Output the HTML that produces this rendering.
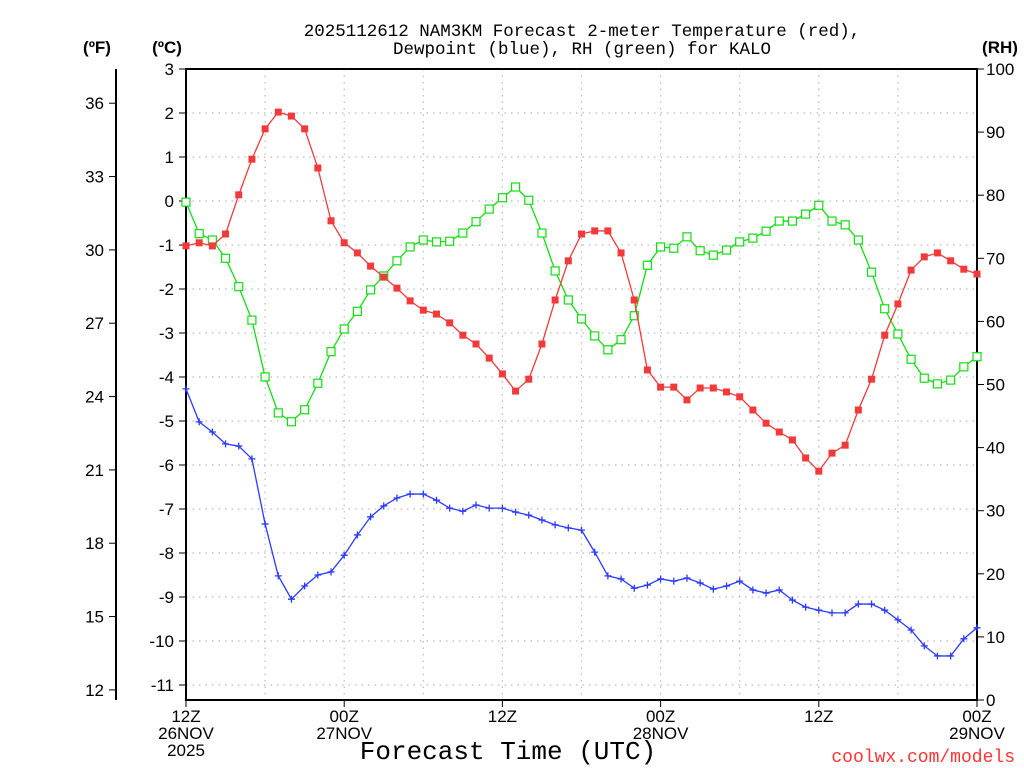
<!DOCTYPE html>
<html><head><meta charset="utf-8"><style>
body{margin:0;background:#fff;}
svg{display:block;font-family:"Liberation Sans","DejaVu Sans",sans-serif;}
.mono{font-family:"Liberation Mono","DejaVu Sans Mono",monospace;}
</style></head><body>
<svg id="c" width="1024" height="768" xmlns="http://www.w3.org/2000/svg"></svg>
<script>
const hours = Array.from({length:61},(_,i)=>i);
const tempC = [-1.02,-0.95,-1.02,-0.75,0.14,0.95,1.64,2.02,1.93,1.64,0.75,-0.45,-0.95,-1.18,-1.48,-1.73,-1.98,-2.27,-2.48,-2.57,-2.77,-3.05,-3.25,-3.57,-3.93,-4.32,-4.05,-3.25,-2.25,-1.36,-0.75,-0.68,-0.68,-1.18,-2.25,-3.84,-4.23,-4.23,-4.52,-4.25,-4.25,-4.34,-4.45,-4.75,-5.05,-5.25,-5.43,-5.84,-6.14,-5.73,-5.55,-4.75,-4.05,-3.05,-2.34,-1.57,-1.27,-1.18,-1.36,-1.55,-1.66];
const dewC = [-4.27,-5.02,-5.25,-5.52,-5.57,-5.86,-7.34,-8.52,-9.05,-8.75,-8.5,-8.43,-8.05,-7.59,-7.18,-6.93,-6.75,-6.66,-6.66,-6.8,-6.98,-7.05,-6.91,-6.98,-6.98,-7.07,-7.14,-7.25,-7.36,-7.43,-7.48,-7.98,-8.52,-8.59,-8.8,-8.73,-8.59,-8.64,-8.57,-8.68,-8.82,-8.75,-8.64,-8.84,-8.91,-8.84,-9.07,-9.23,-9.3,-9.36,-9.36,-9.16,-9.16,-9.3,-9.52,-9.75,-10.11,-10.34,-10.34,-9.95,-9.7];
const rh = [78.9,73.9,72.9,70,65.5,60.2,51.2,45.5,44.1,46,50.2,55.2,58.8,61.6,65,67.2,69.6,71.8,72.9,72.6,72.7,74,75.8,77.8,79.6,81.3,79.2,74,68,63.4,60.4,57.7,55.5,57.1,60.9,68.9,71.8,71.6,73.4,71.2,70.5,71.3,72.6,73.2,74.3,75.9,75.9,77,78.4,75.9,75.3,72.9,67.8,62,58,54,51,50.1,50.7,52.8,54.4];
const cTicks = [3,2,1,0,-1,-2,-3,-4,-5,-6,-7,-8,-9,-10,-11];
const fTicks = [36,33,30,27,24,21,18,15,12];
const rhTicks = [100,90,80,70,60,50,40,30,20,10,0];
const xTickHours = [0,12,24,36,48,60];
const xTickLabels = [["12Z","26NOV","2025"],["00Z","27NOV"],["12Z"],["00Z","28NOV"],["12Z"],["00Z","29NOV"]];

const X0=186,X1=977,Y0=69,Y1=700;
const xs=h=>X0+(X1-X0)*h/60;
const yc=c=>201-44*c;
const yf=f=>yc((f-32)*5/9);
const yr=r=>Y1-(Y1-Y0)*r/100;
const svg=document.getElementById('c');
const NS='http://www.w3.org/2000/svg';
function el(tag,attrs,parent){const e=document.createElementNS(NS,tag);for(const k in attrs)e.setAttribute(k,attrs[k]);(parent||svg).appendChild(e);return e;}
function txt(x,y,s,attrs){const t=el('text',Object.assign({x:x,y:y},attrs||{}));t.textContent=s;return t;}

const g=el('g',{});


cTicks.forEach(c=>{el('line',{x1:X0,x2:X1,y1:yc(c),y2:yc(c),stroke:'#bbb','stroke-dasharray':'1.5,5','stroke-width':1.2},g);});
for(let h=6;h<60;h+=6){el('line',{x1:xs(h),x2:xs(h),y1:Y0,y2:Y1,stroke:'#bbb','stroke-dasharray':'1.5,5','stroke-width':1.2},g);}

const fr=el('rect',{x:X0,y:Y0,width:X1-X0,height:Y1-Y0,fill:'none',stroke:'#000','stroke-width':2});



const ca=el('g',{'font-size':17,'text-anchor':'end'});


cTicks.forEach(c=>{el('line',{x1:X0-7,x2:X0,y1:yc(c),y2:yc(c),stroke:'#000'},ca);const t=el('text',{x:174,y:yc(c)+6},ca);t.textContent=String(c);});
const fa=el('g',{'font-size':17,'text-anchor':'end'});


el('line',{x1:116,x2:116,y1:Y0,y2:Y1,stroke:'#000','stroke-width':2},fa);
fTicks.forEach(f=>{el('line',{x1:109,x2:116,y1:yf(f),y2:yf(f),stroke:'#000'},fa);const t=el('text',{x:104,y:yf(f)+6},fa);t.textContent=String(f);});
const ra=el('g',{'font-size':17,'text-anchor':'start'});


rhTicks.forEach(r=>{el('line',{x1:X1,x2:X1+7,y1:yr(r),y2:yr(r),stroke:'#000'},ra);const t=el('text',{x:986,y:yr(r)+6},ra);t.textContent=String(r);});
const xa=el('g',{'font-size':17,'text-anchor':'middle'});


xTickHours.forEach((h,i)=>{el('line',{x1:xs(h),x2:xs(h),y1:Y1,y2:Y1+7,stroke:'#000'},xa);xTickLabels[i].forEach((s,j)=>{const t=el('text',{x:xs(h),y:722+j*17},xa);t.textContent=s;});});

const u1=txt(97,53,'(ºF)',{'font-size':17,'font-weight':'bold','text-anchor':'middle'});

const u2=txt(167,53,'(ºC)',{'font-size':17,'font-weight':'bold','text-anchor':'middle'});

const u3=txt(1000,53,'(RH)',{'font-size':17,'font-weight':'bold','text-anchor':'middle'});

const t1=txt(582,36,'2025112612 NAM3KM Forecast 2-meter Temperature (red),',{'font-size':17.5,'text-anchor':'middle',class:'mono'});

const t2=txt(582,54,'Dewpoint (blue), RH (green) for KALO',{'font-size':17.5,'text-anchor':'middle',class:'mono'});

const xt=txt(508,759,'Forecast Time (UTC)',{'font-size':26,'text-anchor':'middle',class:'mono'});

const cr=txt(1015,762,'coolwx.com/models',{'font-size':18,'text-anchor':'end',fill:'#f33',class:'mono'});


function series(vals,yfn,color,name,marker){
  const gg=el('g',{});
  
  
  el('polyline',{points:vals.map((v,i)=>xs(hours[i])+','+yfn(v)).join(' '),fill:'none',stroke:color,'stroke-width':1.3},gg);
  vals.forEach((v,i)=>{
    const x=xs(hours[i]),y=yfn(v);let m;
    if(marker==='fill')m=el('rect',{x:x-3.5,y:y-3.5,width:7,height:7,fill:color},gg);
    else if(marker==='open')m=el('rect',{x:x-4,y:y-4,width:8,height:8,fill:'#fff',stroke:color,'stroke-width':1.2},gg);
    else m=el('path',{d:`M${x-3.5},${y}H${x+3.5}M${x},${y-3.5}V${y+3.5}`,stroke:color,'stroke-width':1.3},gg);
    
    
  });
}
series(rh,yr,'#1d1','rh-series','open');
series(dewC,yc,'#2a3bff','dewpoint-series','plus');
series(tempC,yc,'#f23a3a','temperature-series','fill');
</script>
</body></html>
